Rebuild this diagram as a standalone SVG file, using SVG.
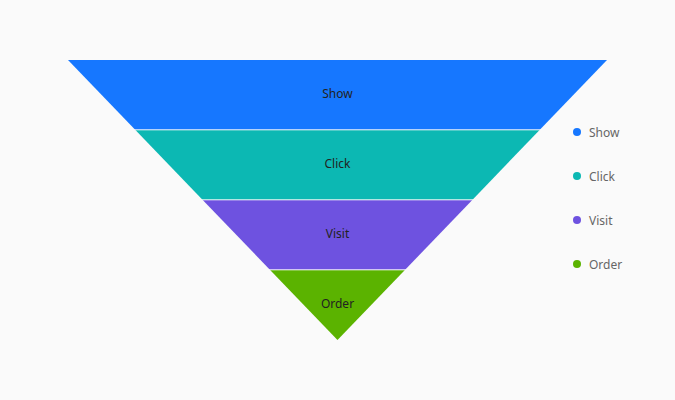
<svg xmlns="http://www.w3.org/2000/svg" width="675" height="400" viewBox="0 0 675 400">
<style>
.sep{stroke:#fafafa;stroke-width:1}
.lbl{font-family:"Noto Sans","Liberation Sans",sans-serif;font-size:12px;fill:#222;text-anchor:middle;dominant-baseline:central}
.leg{font-family:"Noto Sans","Liberation Sans",sans-serif;font-size:12px;fill:#666;dominant-baseline:central}
</style>
<rect width="675" height="400" fill="#fafafa"/>
<g id="show"><polygon fill="#1677ff" points="68,60 607,60 539.6,130 135.4,130"/><text class="lbl" x="337.5" y="93">Show</text></g>
<g id="click"><polygon fill="#0cb8b3" points="135.4,130 539.6,130 472.3,200 202.7,200"/><text class="lbl" x="337.5" y="163">Click</text></g>
<g id="visit"><polygon fill="#6e52e0" points="202.7,200 472.3,200 404.9,270 270.1,270"/><text class="lbl" x="337.5" y="233">Visit</text></g>
<g id="order"><polygon fill="#5bb300" points="270.1,270 404.9,270 337.5,340"/><text class="lbl" x="337.5" y="303">Order</text></g>
<g id="separators">
<line class="sep" x1="130" y1="129.8" x2="545" y2="129.8"/>
<line class="sep" x1="198" y1="199.8" x2="477" y2="199.8"/>
<line class="sep" x1="265" y1="269.8" x2="410" y2="269.8"/>
</g>
<g id="legend">
<circle cx="577" cy="132" r="4" fill="#1677ff"/><text class="leg" x="589" y="132">Show</text>
<circle cx="577" cy="176" r="4" fill="#0cb8b3"/><text class="leg" x="589" y="176">Click</text>
<circle cx="577" cy="220" r="4" fill="#6e52e0"/><text class="leg" x="589" y="220">Visit</text>
<circle cx="577" cy="264" r="4" fill="#5bb300"/><text class="leg" x="589" y="264">Order</text>
</g>
<g id="connectors"/>
</svg>
